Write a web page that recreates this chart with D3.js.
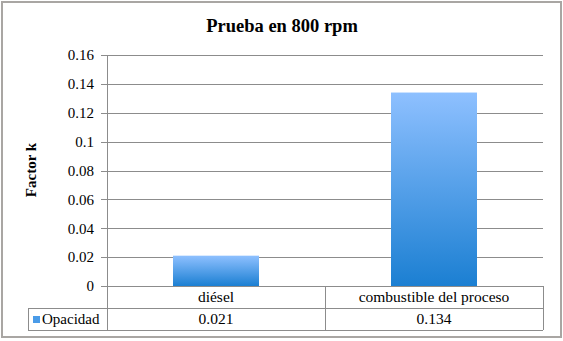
<!DOCTYPE html>
<html>
<head>
<meta charset="utf-8">
<script src="https://cdn.jsdelivr.net/npm/d3@7"></script>
<style>
  body { margin: 0; background: #fff; }
</style>
</head>
<body>
<div id="chart"></div>
<script>
// Chart data
const categories = ["diésel", "combustible del proceso"];
const values = [0.021, 0.134];
const seriesName = "Opacidad";
const valueLabels = ["0.021", "0.134"];
const yTicks = [0, 0.02, 0.04, 0.06, 0.08, 0.1, 0.12, 0.14, 0.16];

const W = 563, H = 341;
const plot = { left: 107, right: 543, top: 55, bottom: 286 };
const rowH = 22;
const gridColor = "#8c8c8c";
const FONT = "Liberation Serif, DejaVu Serif";

const svg = d3.select("#chart")
  .append("svg")
  .attr("width", W)
  .attr("height", H)
  .style("font-family", FONT);

// Bar gradient
const grad = svg.append("defs").append("linearGradient")
  .attr("id", "barGrad")
  .attr("x1", 0).attr("y1", 0).attr("x2", 0).attr("y2", 1);
grad.append("stop").attr("offset", "0%").attr("stop-color", "#8ec0ff");
grad.append("stop").attr("offset", "100%").attr("stop-color", "#1b7fd2");

// Outer frame
svg.append("rect")
  .attr("x", 2).attr("y", 2)
  .attr("width", 559).attr("height", 335)
  .attr("fill", "#fff")
  .attr("stroke", "#a9a6a3")
  .attr("stroke-width", 2);

// Title
svg.append("text")
  .attr("x", 282)
  .attr("y", 32)
  .attr("text-anchor", "middle")
  .attr("font-size", 18.5)
  .attr("font-weight", "bold")
  .style("font-family", FONT)
  .text("Prueba en 800 rpm");

// Scales
const x = d3.scaleBand()
  .domain(categories)
  .range([plot.left, plot.right])
  .paddingInner(0)
  .paddingOuter(0);

const y = d3.scaleLinear()
  .domain([0, 0.16])
  .range([plot.bottom, plot.top]);

// Gridlines
svg.append("g")
  .selectAll("line")
  .data(yTicks)
  .enter()
  .append("line")
  .attr("x1", plot.left - 6)
  .attr("x2", plot.right)
  .attr("y1", d => Math.round(y(d)) + 0.5)
  .attr("y2", d => Math.round(y(d)) + 0.5)
  .attr("stroke", gridColor)
  .attr("stroke-width", 1);

// Y axis (labels only)
const yAxis = svg.append("g")
  .attr("transform", `translate(${plot.left},0)`)
  .call(d3.axisLeft(y).tickValues(yTicks).tickFormat(d => d3.format("")(+d.toFixed(2))).tickSize(0).tickPadding(13));
yAxis.attr("font-family", null);
yAxis.select(".domain").remove();
yAxis.selectAll("text")
  .attr("font-size", 15)
  .attr("fill", "#000")
  .style("font-family", FONT);

// Y axis title
svg.append("text")
  .attr("transform", "translate(36,170) rotate(-90)")
  .attr("text-anchor", "middle")
  .attr("font-size", 15)
  .attr("font-weight", "bold")
  .style("font-family", FONT)
  .text("Factor k");

// Bars
const barW = 86;
svg.selectAll(".bar")
  .data(values)
  .enter()
  .append("rect")
  .attr("class", "bar")
  .attr("x", (d, i) => x(categories[i]) + (x.bandwidth() - barW) / 2)
  .attr("y", d => y(d))
  .attr("width", barW)
  .attr("height", d => y(0) - y(d))
  .attr("fill", "url(#barGrad)");

// Data table
const t = svg.append("g")
  .attr("stroke", gridColor)
  .attr("stroke-width", 1)
  .attr("fill", "none");

const rowTop = plot.bottom;
t.append("line")
  .attr("x1", plot.left + 0.5).attr("x2", plot.left + 0.5)
  .attr("y1", plot.top).attr("y2", rowTop + 2 * rowH);
categories.forEach((c, i) => {
  const xr = Math.round(x(c) + x.bandwidth()) + 0.5;
  t.append("line")
    .attr("x1", xr).attr("x2", xr)
    .attr("y1", rowTop).attr("y2", rowTop + 2 * rowH);
});
t.append("line")
  .attr("x1", 28).attr("x2", plot.right)
  .attr("y1", rowTop + rowH + 0.5).attr("y2", rowTop + rowH + 0.5);
t.append("line")
  .attr("x1", 28).attr("x2", plot.right)
  .attr("y1", rowTop + 2 * rowH + 0.5).attr("y2", rowTop + 2 * rowH + 0.5);
t.append("line")
  .attr("x1", 28.5).attr("x2", 28.5)
  .attr("y1", rowTop + rowH).attr("y2", rowTop + 2 * rowH);

// Category labels
svg.selectAll(".cat")
  .data(categories)
  .enter()
  .append("text")
  .attr("x", d => x(d) + x.bandwidth() / 2)
  .attr("y", rowTop + 16)
  .attr("text-anchor", "middle")
  .attr("font-size", 15.5)
  .style("font-family", FONT)
  .text(d => d);

// Value labels
svg.selectAll(".val")
  .data(valueLabels)
  .enter()
  .append("text")
  .attr("x", (d, i) => x(categories[i]) + x.bandwidth() / 2)
  .attr("y", rowTop + rowH + 16)
  .attr("text-anchor", "middle")
  .attr("font-size", 15.5)
  .style("font-family", FONT)
  .text(d => d);

// Legend key
svg.append("rect")
  .attr("x", 33).attr("y", rowTop + rowH + 8)
  .attr("width", 7).attr("height", 7)
  .attr("fill", "#4a9be8");
svg.append("text")
  .attr("x", 42)
  .attr("y", rowTop + rowH + 16)
  .attr("font-size", 15)
  .style("font-family", FONT)
  .text(seriesName);
</script>
</body>
</html>
